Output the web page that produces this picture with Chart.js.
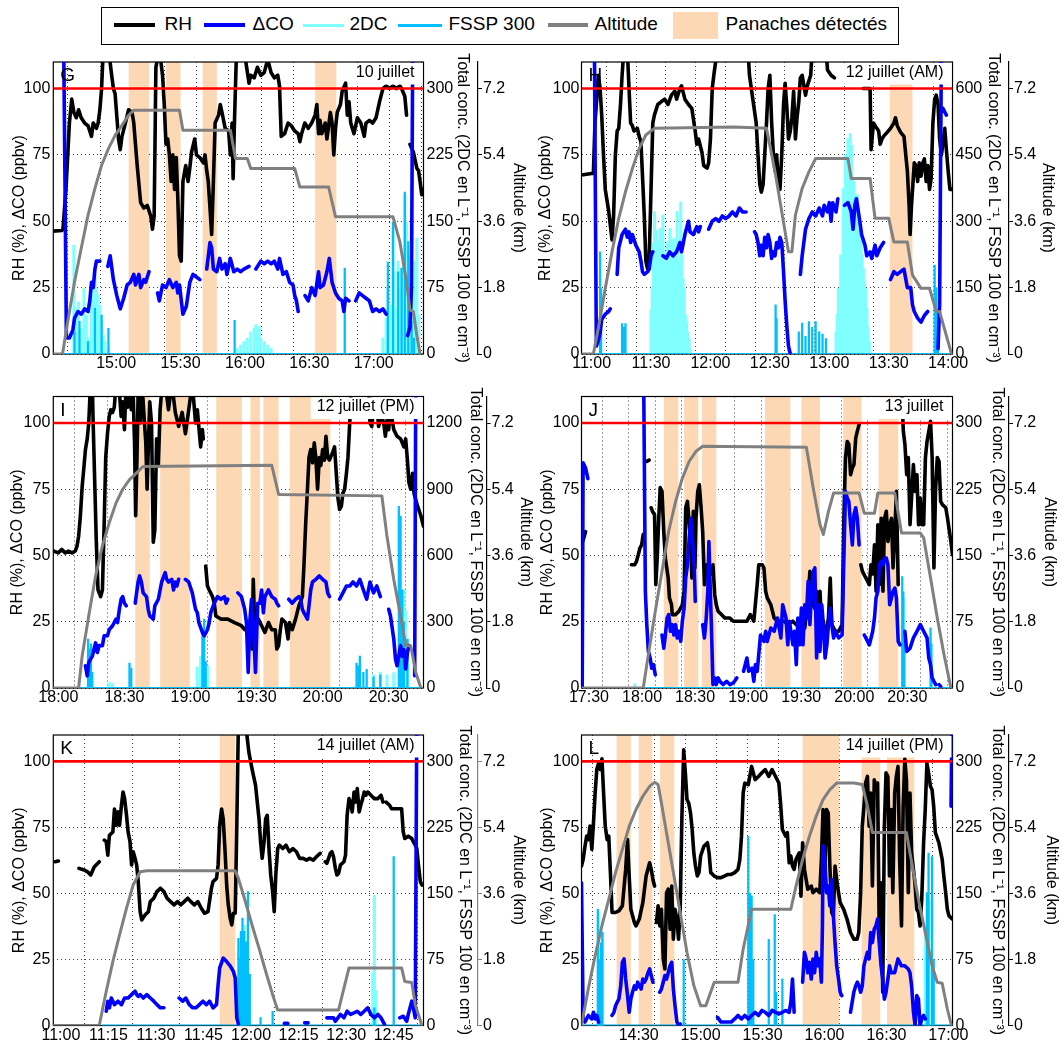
<!DOCTYPE html>
<html><head><meta charset="utf-8">
<script src="https://cdn.jsdelivr.net/npm/chart.js@4/dist/chart.umd.min.js"></script>
<style>
html,body{margin:0;padding:0;background:#fff;}
body{width:1062px;height:1047px;overflow:hidden;position:relative;font-family:"Liberation Sans",Arial,Helvetica,sans-serif;}
canvas{position:absolute;}
#legend{position:absolute;left:101px;top:7px;width:798px;height:38px;border:1.5px solid #000;box-sizing:border-box;background:#fff;z-index:5;}
#legend .ln{position:absolute;}
#legend .lt{position:absolute;top:6px;font-size:19px;line-height:20px;color:#000;white-space:nowrap;}
</style></head><body>
<div id="legend">
  <div class="ln" style="left:11.5px;width:41px;top:15px;height:4px;background:#000"></div><span class="lt" style="left:62.5px">RH</span>
  <div class="ln" style="left:101.5px;width:41px;top:15px;height:4px;background:#0000ff"></div><span class="lt" style="left:150.5px">ΔCO</span>
  <div class="ln" style="left:200.5px;width:41px;top:15.5px;height:3px;background:#80ffff"></div><span class="lt" style="left:247.5px">2DC</span>
  <div class="ln" style="left:295.5px;width:44px;top:15.5px;height:3px;background:#00bfff"></div><span class="lt" style="left:346.5px">FSSP 300</span>
  <div class="ln" style="left:445.5px;width:40px;top:15px;height:4px;background:#808080"></div><span class="lt" style="left:492.5px">Altitude</span>
  <div class="ln" style="left:570.5px;width:45px;top:3.5px;height:27px;background:#fcd9b4"></div><span class="lt" style="left:623.5px">Panaches détectés</span>
</div>
<canvas id="c0"></canvas><canvas id="c1"></canvas><canvas id="c2"></canvas>
<canvas id="c3"></canvas><canvas id="c4"></canvas><canvas id="c5"></canvas>
<script>
// ===================== DATA (time = minutes after 00:00 UTC) =====================
const PANEL_LETTERS = ['G','H','I','J','K','L'];
const PANEL_DATES = ['10 juillet','12 juillet (AM)','12 juillet (PM)','13 juillet','14 juillet (AM)','14 juillet (PM)'];
const SAT_RH = 100;
const RH_TICKS = [0,25,50,75,100];
const ALT_TICKS = [0,1.8,3.6,5.4,7.2];
const ALT_LABELS = ['0','1.8','3.6','5.4','7.2'];
const CONC_TICKS_G = [0,75,150,225,300];
const CONC_TICKS_H = [0,150,300,450,600];
const CONC_TICKS_I = [0,300,600,900,1200];
const CONC_TICKS_J = [0,75,150,225,300];
const CONC_TICKS_K = [0,75,150,225,300];
const CONC_TICKS_L = [0,75,150,225,300];

const XRANGE_G = [870.7,1043.2];
const XRANGE_H = [654.9,842.2];
const XRANGE_I = [1077.7,1245.8];
const XRANGE_J = [1045.8,1255.5];
const XRANGE_K = [657.6,774.4];
const XRANGE_L = [842.3,1022.0];

const XTICKS_G = [885,900,915,930,945,960,975,990,1005,1020,1035];
const XLABELS_G = ['','15:00','','15:30','','16:00','','16:30','','17:00',''];
const XTICKS_H = [660,675,690,705,720,735,750,765,780,795,810,825,840];
const XLABELS_H = ['11:00','','11:30','','12:00','','12:30','','13:00','','13:30','','14:00'];
const XTICKS_I = [1080,1095,1110,1125,1140,1155,1170,1185,1200,1215,1230,1245];
const XLABELS_I = ['18:00','','18:30','','19:00','','19:30','','20:00','','20:30',''];
const XTICKS_J = [1050,1065,1080,1095,1110,1125,1140,1155,1170,1185,1200,1215,1230,1245];
const XLABELS_J = ['17:30','','18:00','','18:30','','19:00','','19:30','','20:00','','20:30',''];
const XTICKS_K = [660,675,690,705,720,735,750,765];
const XLABELS_K = ['11:00','11:15','11:30','11:45','12:00','12:15','12:30','12:45'];
const XTICKS_L = [855,870,885,900,915,930,945,960,975,990,1005,1020];
const XLABELS_L = ['','14:30','','15:00','','15:30','','16:00','','16:30','','17:00'];

// ---------- G : 10 juillet ----------
const RH_G = [[870.6,46.3],[874.7,46.5],[875.2,47],[876.6,62],[878.2,87],[879.3,96],[880.3,91],[881.4,89],[882.5,92],[883.7,89],[885.3,87],[886.9,86],[888.5,82],[889.3,87],[890.8,85],[891.6,87],[892.4,92],[893.2,100],[894.0,115],[896.4,115],[897.9,105],[898.7,100],[899.5,98],[901.1,81],[901.9,77],[902.7,82],[904.3,87],[905.8,92],[907.4,91],[908.2,87],[909.8,71],[911.4,57],[912.9,55],[914.5,56],[916.1,52],[916.9,47],[917.7,52],[918.5,108],[920.1,115],[921.6,105],[922.4,94],[923.2,79],[924.0,81],[924.8,75],[925.6,65],[926.4,75],[927.2,62],[928.0,74],[928.7,59],[929.5,37],[930.3,35],[931.1,65],[932.4,71],[933.5,65],[934.3,70],[935.1,76],[936.6,81],[937.4,75],[939.0,74],[940.6,72],[941.4,75],[942.2,69],[942.9,65],[943.7,55],[944.5,45],[945.3,65],[946.1,87],[947.7,90],[948.5,94],[949.3,91],[950.8,85],[952.4,84],[953.2,75],[954.0,87],[954.5,66],[955.1,87],[956.1,115],[959.5,115],[961.9,102],[962.7,105],[964.3,104],[965.8,108],[967.4,105],[969.0,106],[970.6,111],[972.2,106],[973.7,104],[975.3,105],[976.1,101],[976.9,82],[978.5,83],[980.1,87],[981.6,86],[983.2,84],[984.8,83],[985.6,80],[986.4,83],[987.9,87],[989.5,85],[991.1,87],[992.7,90],[993.5,94],[994.3,83],[995.0,88],[995.8,83],[997.4,87],[998.2,81],[999.0,86],[999.8,91],[1000.6,87],[1001.4,75],[1002.2,85],[1003.0,91],[1004.5,94],[1005.3,99],[1006.9,102],[1007.7,90],[1008.5,95],[1009.3,87],[1010.8,83],[1012.4,89],[1014.0,87],[1015.6,82],[1016.4,87],[1018.0,88],[1019.5,87],[1021.1,89],[1022.7,95],[1024.3,100],[1025.8,101],[1027.4,100],[1029.0,101],[1030.6,100],[1032.2,101],[1033.0,100],[1034.5,97],[1035.3,90],[1036.1,null],[1036.9,79],[1038.5,76],[1040.1,70],[1040.9,69],[1041.6,65],[1042.4,60],[1043.0,62]];
const CO_G = [[875.5,120],[876.2,60],[876.8,6],[878.2,6],[879.8,9],[880.6,13.5],[882.2,16],[883.7,15],[885.3,17],[886.9,16],[887.7,20],[888.5,27],[889.3,25],[890.1,32],[890.8,35],[892.4,35],[894,null],[896.1,33],[897.2,37],[898.7,28],[900.3,22],[901.9,17],[903.5,21],[905.1,26],[906.6,27],[908.2,30],[909.0,26],[910.6,30],[911.4,25],[912.9,28],[913.7,27],[915.3,31],[917,null],[919.3,23],[920.1,20],[921.6,26],[923.2,25],[924.8,28],[926.4,25],[928.0,27],[928.7,23],[929.5,26],[931.1,15],[932.7,18],[934.3,27],[935.8,30],[937.4,29],[939.0,28],[940.5,null],[942.2,32],[943.7,42],[944.5,40],[945.3,32],[946.9,31],[948.2,36],[949.3,32],[950.8,34],[951.6,30],[953.2,36],[954.8,31],[956.4,32],[957.9,31],[959.5,32],[961.9,33],[963.5,null],[965.1,32],[967.4,35],[969.0,34],[970.6,35],[972.2,34],[973.7,35],[975.3,32],[976.1,36],[977.7,30],[979.3,31],[980.8,27],[982.4,26],[983.2,22],[984.0,20],[984.8,16],[986.5,null],[988.0,22],[989.5,20],[991.1,25],[992.7,22],[994.3,31],[995.0,25],[996.6,26],[998.2,31],[999.3,36],[1000.6,27],[1002.2,23],[1003.7,21],[1005.3,20],[1006.1,16],[1006.9,21],[1008.5,20],[1010,null],[1011.6,20],[1013.2,23],[1014.8,22],[1016.4,21],[1018.0,20],[1019.5,16],[1021.1,17],[1022.7,16],[1024.3,17],[1025.8,15],[1030,null],[1035.8,7],[1036.9,10],[1037.6,25],[1038.2,120]];
const ALT_G = [[870.6,0],[875.0,0],[877.4,0.87],[880.6,1.96],[883.7,2.86],[886.9,3.77],[890.1,4.49],[893.2,5.12],[896.4,5.57],[899.5,5.93],[902.7,6.2],[905.8,6.48],[908.2,6.61],[929.5,6.61],[931.1,6.07],[953.2,6.07],[955.6,5.3],[961.1,5.3],[962.7,5.03],[983.2,5.03],[985.6,4.53],[999.0,4.53],[1002.2,3.72],[1029.0,3.72],[1032.2,3.04],[1035.3,1.96],[1036.9,1.19],[1038.5,1.15],[1040.1,0.5],[1041.6,0]];
const DC2_G = [[880.3,123],[881.4,52],[882.5,59],[883.7,29],[885.0,74],[886.1,44],[887.2,18],[888.5,82],[889.3,67],[890.1,89],[890.8,74],[891.6,67],[892.4,55],[893.2,37],[894.0,21],[894.8,14],[896.4,6],[956.4,6],[958.0,10],[959.5,14],[961.1,18],[962.7,25],[964.3,29],[965.1,33],[965.8,21],[966.6,31],[967.4,18],[969.0,14],[970.6,10],[972.2,6],[1024.3,18],[1025.8,40],[1026.6,74],[1027.4,55],[1029.0,142],[1029.8,93],[1030.6,52],[1031.4,105],[1032.2,74],[1033.0,97],[1033.8,112],[1034.5,180],[1035.3,149],[1036.1,93],[1036.9,112],[1037.7,67],[1038.5,74],[1039.3,105],[1040.1,131],[1040.9,44]];
const FSSP_G = [[880.6,25],[882.9,37],[886.9,14],[890.1,52],[893.2,44],[896.4,29],[955.2,38],[1006.5,97],[1026.6,104],[1029.0,149],[1031.4,93],[1033.0,97],[1034.5,183],[1036.1,127],[1037.7,37],[1038.8,18]];
const FSSP_ON_G = [875,1042];
const PLUMES_G = [[905.8,915.3],[923.2,930.0],[940.3,946.9],[992.7,1002.6]];

// ---------- H : 12 juillet (AM) ----------
const RH_H = [[654.9,67.4],[660.0,68],[660.9,68],[661.7,87],[662.6,96],[663.4,105],[664.3,100],[665.1,90],[666.0,75],[666.9,62],[668.6,54],[670.3,43],[671.1,52],[672.0,75],[672.9,84],[673.7,85],[674.6,94],[675.4,105],[676.3,115],[678.0,115],[678.9,100],[679.7,87],[680.6,86],[681.4,84],[683.1,85],[684.0,82],[684.9,80],[685.7,67],[686.6,52],[687.4,35],[688.3,32],[689.1,37],[690.0,62],[690.9,87],[691.7,90],[693.4,94],[695.1,95],[696.9,96],[698.6,94],[700.3,97.5],[702.0,99],[702.9,96],[704.6,100],[705.4,101],[707.1,96],[708.9,94],[710.6,92.5],[712.3,84],[713.1,79],[714.0,81],[715.7,76],[716.6,71],[718.3,70],[719.1,72],[720.0,81],[720.9,100],[721.7,105],[722.6,110],[724.3,115],[738.9,115],[739.7,105],[741.4,96],[743.1,87],[744.0,75],[744.9,64],[745.7,61],[746.6,64],[747.4,75],[748.3,87],[749.1,100],[750.0,105],[750.9,87],[751.7,76],[752.6,69],[753.4,75],[754.3,65],[755.1,62],[756.0,75],[756.9,94],[757.7,102],[758.6,92.5],[759.4,81],[760.3,84],[761.1,89],[762.0,99],[762.9,81],[763.7,89],[764.6,95],[765.4,104],[766.3,105],[768.0,97.5],[768.9,101],[770.6,105],[771.4,115],[778.3,115],[779.1,107],[780.9,105],[782.6,104],[790,null],[797.1,100],[800.6,100],[801.1,77],[802.3,87],[804.0,85],[804.9,84],[805.7,79],[806.6,81],[807.4,82],[809.2,83.5],[810.9,85],[812.6,87],[813.4,89],[814.3,86],[816.0,83.5],[817.7,82],[819.4,69],[820.3,56],[820.8,45],[821.5,56],[822.9,72],[823.7,71],[824.6,65],[825.4,72],[826.3,67],[827.2,72],[828.0,73.5],[828.9,65],[829.7,71],[830.6,62],[831.4,66],[832.3,87],[833.2,96],[834.0,97.5],[834.9,94],[835.7,81],[836.6,75],[838.3,85],[839.1,77],[840.0,69],[840.9,62],[842.2,62]];
const CO_H = [[661.4,120],[661.9,60],[662.4,3],[663.4,5],[664.3,8],[665.1,13],[666.9,15],[668.6,16],[669.4,17],[671,null],[672.9,30],[673.7,40],[675.4,45],[677.1,47],[678.0,44],[678.9,46],[679.7,42],[680.6,45],[682.3,41],[684.0,38.5],[684.9,35],[685.7,31],[686.6,30],[688.3,31],[689.1,32],[690.0,37],[690.9,38.5],[693,null],[696.0,37],[697.7,36],[699.4,38.5],[701.1,37],[702.9,38.5],[704.6,42],[705.4,38.5],[707.1,45],[708.9,50],[709.7,46],[711.4,45],[713.1,48],[714.0,46],[714.9,48],[717,null],[719.1,47],[720.9,50],[722.6,51],[724.3,50],[726.0,52],[727.7,51],[729.4,52],[731.1,53.5],[732.9,52],[734.6,55],[736.3,53.5],[738.0,53.5],[740,null],[742.3,46],[743.1,45],[744.0,42],[744.9,37],[745.7,41],[746.6,37],[747.4,44],[748.3,40],[749.1,45],[750.0,42],[750.9,36],[751.7,38.5],[752.6,37],[753.4,42],[754.3,40],[755.1,44],[756.0,42],[756.9,31],[757.7,20],[758.6,10],[759.4,3],[760.3,0],[763,null],[765.4,30],[766.3,37],[768.0,47],[769.7,51],[771.4,53.5],[773.1,52],[774.9,55],[776.6,52],[777.4,56],[779.1,53.5],[780.0,57],[780.9,50],[781.7,57],[783.4,53.5],[784.3,58.5],[786,null],[787.7,56],[789.4,57],[791.1,53.5],[792.0,47],[792.9,56],[793.7,58.5],[794.6,54],[795.4,50],[796.3,45],[798.0,41],[798.9,37],[800.6,38.5],[801.4,36],[802.3,38.5],[803.1,41],[804.0,37],[805.7,40],[807.4,42],[809,null],[810.9,28],[812.6,31],[814.3,30],[816.0,31],[817.7,32],[819.4,25],[821.1,25],[822.0,18.5],[822.9,16],[824.6,13.5],[826.3,12],[828.0,14.5],[829.7,16],[832,null],[834.9,2],[835.7,18.5],[836.6,115],[837,null],[837.4,92.5],[839.1,90]];
const ALT_H = [[654.9,0],[660.9,0],[663.4,0.7],[666.9,1.78],[670.3,2.77],[673.7,3.68],[677.1,4.4],[680.6,5.03],[684.0,5.57],[687.4,5.94],[691.7,6.12],[732.0,6.16],[748.3,6.12],[752.6,4.94],[756.0,3.86],[759.4,2.77],[761.1,2.77],[762.9,3.77],[766.3,4.49],[769.7,4.94],[773.1,5.3],[789.4,5.3],[791.1,4.76],[800.6,4.76],[803.1,3.68],[810.0,3.68],[812.6,3.04],[819.4,3.04],[822.0,2.14],[826.3,1.78],[830.6,1.78],[834.0,1.15],[835.7,1.15],[841.7,0]];
const DC2_H = [[690.0,100],[690.6,148],[691.2,250],[691.8,322],[692.4,200],[693.0,280],[693.6,254],[694.2,180],[694.8,284],[695.4,186],[696.0,314],[696.6,230],[697.2,209],[697.8,160],[698.4,254],[699.0,148],[699.6,284],[700.2,200],[700.8,224],[701.4,261],[702.0,180],[702.6,239],[703.2,322],[703.8,150],[704.4,209],[705.0,344],[705.6,224],[706.2,170],[706.8,148],[707.4,88],[708.0,73],[708.6,50],[709.2,35],[709.8,13],[783.4,50],[784.0,90],[784.6,148],[785.2,120],[785.8,224],[786.4,180],[787.0,374],[787.6,300],[788.2,450],[788.8,380],[789.4,487],[790.0,420],[790.6,498],[791.2,472],[791.8,400],[792.4,390],[793.0,351],[793.6,300],[794.2,360],[794.8,299],[795.4,254],[796.0,280],[796.6,224],[797.2,193],[797.8,163],[798.4,148],[799.0,103],[799.6,60],[800.2,28]];
const FSSP_H = [[664.3,231],[664.8,148],[675.4,69],[676.3,60],[677.1,69],[752.9,111],[753.4,80],[764.6,50],[766.3,70],[768.0,40],[769.7,73],[771.4,60],[773.1,73],[774.9,50],[776.6,45],[778.3,35],[833.2,201],[834.0,150],[834.9,100]];
const FSSP_ON_H = [661,842];
const PLUMES_H = [[810.5,822.0]];

// ---------- I : 12 juillet (PM) ----------
const RH_I = [[1077.7,51.7],[1080.0,51],[1081.5,52.3],[1083.1,51],[1084.6,51.7],[1086.2,51],[1087.7,51.7],[1088.5,53.6],[1089.2,57.3],[1090.0,65],[1090.8,76],[1091.5,82.4],[1092.3,90],[1093.1,94],[1093.8,100],[1094.6,115],[1095.4,115],[1095.8,100],[1096.6,75],[1097.2,56],[1098.0,37],[1099.2,34.5],[1100.0,37],[1100.8,62],[1101.5,87],[1102.3,96],[1103.1,102.5],[1103.8,105],[1104.6,104],[1105.4,106],[1106.2,115],[1107.7,112],[1108.5,102.5],[1109.2,108],[1110.0,97.5],[1110.8,115],[1111.5,106],[1112.3,115],[1113.1,105],[1113.8,115],[1114.6,92.5],[1115.1,65],[1115.7,87],[1116.3,115],[1117.2,100],[1118.2,112],[1119.1,100],[1119.7,92.5],[1120.3,75],[1120.9,92.5],[1121.5,108],[1122.3,100],[1123.1,55],[1123.8,59.6],[1124.6,94],[1125.4,84],[1126.2,105],[1126.9,112],[1128.5,115],[1130.0,105],[1131.5,115],[1133.1,104],[1134.6,98.7],[1136.2,104],[1137.7,96],[1139.2,105],[1140.8,115],[1142.3,100],[1143.1,105],[1144.6,91],[1145.4,97.5],[1145.8,94],[1146.3,null],[1146.9,46],[1147.7,38.5],[1148.5,37],[1150.0,34.5],[1150.8,32],[1151.5,27.2],[1153.8,26],[1156.9,26],[1160.0,24.7],[1163.1,23.5],[1164.6,22],[1166.2,23.5],[1167.4,24.7],[1168.0,14.7],[1168.5,41],[1169.2,22],[1170.8,26],[1172.3,23.5],[1173.8,21],[1175.4,24.7],[1176.9,22],[1178.5,22],[1179.2,14.7],[1180.0,16],[1180.8,22],[1181.5,26],[1183.1,24.7],[1184.3,18.5],[1184.9,24.7],[1186.2,22],[1187.7,26],[1189.2,31],[1190.8,34.5],[1191.5,46],[1192.3,62],[1193.1,75],[1193.8,87],[1194.6,90],[1195.4,85],[1196.2,92.5],[1196.9,87],[1197.7,75],[1198.5,87],[1199.2,84],[1200.0,90],[1200.8,86],[1201.5,95],[1202.3,87],[1203.1,86],[1204.6,89],[1205.4,91],[1206.2,81],[1206.9,72],[1207.7,67.4],[1208.5,68.6],[1209.2,73.5],[1210.0,75],[1210.8,81],[1211.5,87],[1212.3,100],[1213.1,115],[1220.8,115],[1221.5,100],[1222.3,98.7],[1223.1,105],[1224.6,108],[1225.4,98.7],[1226.9,102.5],[1227.7,100],[1228.5,95],[1229.2,101],[1230.0,97.5],[1230.8,105],[1232.3,97.5],[1233.8,95],[1235.4,94],[1236.9,91],[1237.7,94],[1238.5,86],[1239.2,77.4],[1240.0,75],[1240.8,81],[1241.5,73.5],[1242.3,71],[1243.1,68.6],[1244.6,65],[1245.8,61]];
const CO_I = [[1092.3,8.4],[1093.1,4.6],[1093.8,9.7],[1095.4,12],[1096.9,17],[1097.7,13.4],[1098.5,16],[1100.0,16],[1100.8,19.7],[1102.3,19.7],[1103.1,22],[1104.6,23.5],[1106.2,26],[1106.9,24.7],[1107.7,29.7],[1108.5,33.5],[1109.2,34.5],[1110.0,32],[1110.8,31],[1112,null],[1114.9,32],[1116.2,40],[1116.9,42.3],[1117.7,40],[1118.5,35.9],[1120.0,34.5],[1120.8,29.7],[1121.5,27.2],[1123.1,26],[1123.8,31],[1125.4,33.5],[1126.9,40],[1128.5,43.5],[1129.2,41],[1130.0,40],[1131.5,41],[1132.3,37],[1133.1,40],[1133.8,38.5],[1134.6,41],[1136,null],[1137.7,41],[1139.2,40],[1140.8,35.9],[1142.3,29.7],[1143.1,28.4],[1143.8,24.7],[1145.4,21],[1146.2,19.7],[1147.7,22],[1148.5,24.7],[1149.2,28.4],[1150.8,32],[1152.3,34.5],[1153.8,33.5],[1155.4,34.5],[1156.2,32],[1156.9,33.5],[1159,null],[1161.5,35.9],[1163.1,34.5],[1164.6,29.7],[1165.4,24.7],[1166.2,5.9],[1166.9,24.7],[1167.7,33.5],[1168.5,24.7],[1169.5,5.9],[1170.5,32],[1171.5,32],[1172.3,37],[1173.1,28.4],[1173.8,34.5],[1175.4,37],[1176.9,34.5],[1178.5,33.5],[1179.2,32],[1180.0,31],[1182,null],[1184.6,33.5],[1186.2,32],[1187.7,33.5],[1189.2,34.5],[1190.0,33.5],[1190.8,29.7],[1191.5,28.4],[1192.3,27.2],[1193.1,26],[1193.8,31],[1194.6,37],[1195.4,40],[1196.9,41],[1198.5,42.3],[1200.0,41],[1201.5,40],[1202.3,35.9],[1203.1,34.5],[1205,null],[1207.7,33.5],[1209.2,35.9],[1210.8,38.5],[1212.3,38.5],[1213.8,40],[1215.4,38.5],[1216.9,41],[1218.5,37],[1220.0,33.5],[1221.5,40],[1223.1,35.9],[1224.6,38.5],[1226.2,34.5],[1228,null],[1230.0,29.7],[1230.8,27.2],[1232.3,18.5],[1233.1,10.8],[1233.8,8.4],[1234.6,12],[1235.4,16],[1236.2,12],[1236.9,14.5],[1237.7,7.2],[1238.5,13.4],[1239.2,16],[1240.5,null],[1241.8,4.6],[1242.3,120]];
const ALT_I = [[1077.7,0],[1089.2,0],[1090.8,0.87],[1093.8,1.96],[1096.9,3.04],[1100.0,3.86],[1103.1,4.49],[1106.2,5.03],[1109.2,5.4],[1112.3,5.66],[1115.4,5.84],[1118.5,6.02],[1176.9,6.05],[1180.0,5.26],[1226.9,5.22],[1229.2,4.13],[1232.3,2.95],[1235.4,1.96],[1237.7,1.15],[1240.0,1.15],[1242.3,0.42],[1244.6,0]];
const DC2_I = [[1103.1,24],[1104.6,20],[1143.1,96],[1144.6,144],[1146.2,130],[1147.7,100],[1223.1,60],[1226.2,72],[1229.2,60],[1232.3,70],[1236.2,300],[1236.9,444],[1237.7,350],[1238.5,222]];
const FSSP_I = [[1093.5,222],[1094.2,176],[1094.8,200],[1095.4,71],[1112.3,113],[1113.1,90],[1145.4,264],[1146.2,312],[1146.9,120],[1215.4,113],[1216.2,100],[1216.9,144],[1218.5,71],[1220.0,85],[1223.1,50],[1226.2,60],[1234.6,823],[1235.4,778],[1236.2,444],[1236.9,300],[1238.5,222]];
const FSSP_ON_I = [1090,1245];
const PLUMES_I = [[1114.9,1121.5],[1126.2,1139.7],[1151.7,1163.4],[1167.2,1171.5],[1173.1,1180.0],[1185.1,1203.5]];

// ---------- J : 13 juillet ----------
const RH_J = [[1046.5,55.3],[1048.1,59],[1060,null],[1074.0,46.5],[1075.9,46.5],[1076.9,47.8],[1077.9,50.3],[1078.8,52.8],[1079.8,54],[1080.7,58],[1081.5,null],[1082.7,85.5],[1084.0,86],[1084.6,null],[1085.2,68],[1085.9,66.7],[1087.1,65.4],[1087.8,39],[1088.6,49],[1089.4,63],[1090.3,75.6],[1091.3,74.2],[1092.3,59],[1093.2,49],[1094.8,41.5],[1095.5,34],[1096.7,31.4],[1097.1,27.7],[1099.0,27.7],[1100.9,29],[1102.8,31.4],[1103.8,36.5],[1104.7,68],[1105.7,70.4],[1106.7,61.6],[1107.6,54],[1108.2,41.5],[1109.0,66.7],[1109.9,45.3],[1110.5,64],[1111.5,74.2],[1112.4,76.7],[1113.4,68],[1114.3,59],[1115.3,39],[1116.3,46.5],[1117.2,44],[1118.2,44],[1119.2,43],[1120.1,46.5],[1121.1,35.2],[1122.0,31.4],[1123.0,29],[1124.9,27.7],[1126.8,26.4],[1129.7,26.4],[1131.6,25.2],[1135.5,25.2],[1139.3,25.2],[1141.2,27.7],[1143.2,25.2],[1145.1,39],[1146.0,46.5],[1148.0,46.5],[1148.9,45.3],[1149.9,36.5],[1150.8,34],[1152.8,31.4],[1154.7,26.4],[1156.6,25.2],[1160.4,25.2],[1162.4,23.9],[1165.3,25.2],[1167.2,23.9],[1170.1,25.2],[1172.0,22.6],[1173.9,34],[1174.9,44],[1175.8,41.5],[1176.8,31.4],[1177.7,30],[1178.7,36.5],[1179.7,21.4],[1180.6,36.5],[1181.6,21.4],[1182.5,25.2],[1183.5,17.6],[1185.4,26.4],[1186.4,41.5],[1187.3,23.9],[1189.3,21.4],[1191.2,21.4],[1193.1,23.9],[1194.1,64],[1195.0,86.8],[1196.0,93],[1196.9,92],[1197.9,80.5],[1198.9,83],[1199.8,84.3],[1200.8,94.3],[1201.7,96.9],[1202.7,99.4],[1203.2,null],[1203.7,46.5],[1204.6,44],[1206.5,41.5],[1208.5,39],[1209.4,46.5],[1210.4,43],[1211.4,54],[1212.3,36.5],[1213.3,61.6],[1214.2,39],[1215.2,64],[1216.2,36.5],[1217.1,64],[1218.1,66.7],[1219.0,55.3],[1220.0,61.6],[1221.0,64],[1221.9,45.3],[1222.9,59],[1223.8,74.2],[1224.8,39],[1225.7,null],[1226.7,115],[1227.7,97],[1228.6,92],[1229.6,80.5],[1230.5,87],[1231.5,61.6],[1233.4,84.3],[1234.4,74.2],[1235.4,80.5],[1236.3,61.6],[1237.3,71.7],[1238.2,61.6],[1239.2,61.6],[1240.2,87],[1241.1,93],[1243.1,100.6],[1244.0,87],[1245.0,45.3],[1245.9,74.2],[1246.9,87],[1247.9,85.5],[1248.8,70.4],[1249.8,69.2],[1251.7,68],[1252.7,64],[1254.6,55.3],[1255.5,50.3]];
const CO_J = [[1046.2,0],[1046.7,85],[1048.1,83],[1049.4,79],[1060,null],[1080.9,120],[1081.9,36.5],[1082.7,24],[1083.6,13.8],[1084.6,11.3],[1085.5,7.5],[1086.5,8.8],[1087.5,5],[1089,null],[1091.3,20],[1092.3,15],[1093.2,20],[1094.2,26.4],[1095.1,27.7],[1096.1,21.4],[1097.1,23.9],[1098.0,20],[1099.0,23.9],[1099.9,18.9],[1100.9,21.4],[1101.9,17.6],[1102.8,25.2],[1103.8,30.2],[1104.7,41.5],[1105.7,46.5],[1106.7,56.6],[1107.6,64],[1108.6,55.3],[1109.5,46.5],[1110.1,32.7],[1112,null],[1114.3,23.9],[1115.3,18.9],[1116.3,26.4],[1117.2,36.5],[1117.8,55.3],[1118.6,36.5],[1119.2,23.9],[1120.1,1.3],[1121.1,3.8],[1122.0,1.3],[1123.0,3.8],[1124.0,2.5],[1125.9,1.3],[1127.8,2.5],[1129.7,1.3],[1131.6,1.9],[1133.6,3.8],[1135.5,null],[1137.4,6.3],[1139.3,11.3],[1140.3,6.3],[1142.2,7.5],[1143.2,2.5],[1144.1,8.8],[1145.1,6.3],[1147.0,20],[1148.9,17.6],[1149.9,21.4],[1150.8,17.6],[1152.8,22.6],[1154.7,21.4],[1156.6,26.4],[1158.5,18.9],[1159.5,31.4],[1161.4,26.4],[1162.4,16.3],[1163.3,25.2],[1165.3,16.3],[1166.2,21.4],[1167.2,8.8],[1168.1,26.4],[1169.1,16.3],[1170.1,30.2],[1171.0,16.3],[1172.0,31.4],[1172.9,26.4],[1173.9,40.3],[1174.9,23.9],[1175.8,36.5],[1176.8,44],[1177.7,45.3],[1178.7,11.3],[1179.7,31.4],[1180.6,13.8],[1181.6,31.4],[1182.5,23.9],[1183.5,11.3],[1184.5,16.3],[1185.4,23.9],[1186.4,30.2],[1187.3,23.9],[1188.3,18.9],[1189.3,21.4],[1191.2,18.9],[1193.1,20],[1194.1,49],[1195.0,74.2],[1196.0,71.7],[1196.9,70.4],[1197.9,61.6],[1198.9,54],[1199.8,65.4],[1200.8,68],[1201.7,64],[1202.7,54],[1204,null],[1205.6,20],[1206.5,18.9],[1208.5,16.3],[1210.4,21.4],[1211.4,26.4],[1212.3,34],[1213.3,36.5],[1214.2,46.5],[1215.2,47.8],[1216.2,46.5],[1217.1,49],[1218.1,49],[1219.0,46.5],[1220.0,31.4],[1221.0,34],[1221.9,36.5],[1222.9,37.7],[1223.8,34],[1224.8,17.6],[1225.8,16.3],[1227,null],[1228.6,21.4],[1229.6,13.8],[1231.5,15],[1233.4,18.9],[1235.4,21.4],[1237.3,23.9],[1239.2,21.4],[1241.1,18.9],[1242.1,11.3],[1243.1,8.8],[1244.0,3.8],[1245.0,2.5],[1246.0,1.3],[1247,null],[1247.9,1.3],[1248.8,0.6]];
const ALT_J = [[1045.8,0],[1080.7,0],[1083.6,0.91],[1087.5,2.08],[1091.3,3.17],[1095.1,4.26],[1099.0,5.07],[1102.8,5.7],[1106.7,6.16],[1110.5,6.43],[1114.3,6.57],[1172.9,6.54],[1176.8,5.43],[1180.6,4.44],[1182.5,4.17],[1185.4,4.8],[1188.3,5.3],[1202.7,5.3],[1205.6,4.75],[1211.4,4.75],[1213.3,5.3],[1222.9,5.3],[1226.7,4.21],[1237.3,4.21],[1239.2,4.08],[1243.1,2.99],[1246.9,1.9],[1250.7,0.91],[1254.6,0]];
const DC2_J = [[1075.9,5],[1227.7,102]];
const FSSP_J = [[1227.1,126],[1227.7,109],[1228.3,60],[1243.1,68],[1243.6,50]];
const FSSP_ON_J = [1081,1255];
const PLUMES_J = [[1092.3,1100.5],[1103.8,1111.9],[1113.8,1122.0],[1149.5,1163.9],[1170.1,1180.6],[1193.7,1204.1],[1213.7,1224.8]];

// ---------- K : 14 juillet (AM) ----------
const RH_K = [[658.2,62],[659.2,62.3],[662,null],[665.7,59.5],[667.3,58.9],[668.4,58.2],[669.4,57],[670.5,60],[672.1,62],[673,null],[673.7,70.2],[674.3,69.6],[674.8,64.5],[675.3,72],[675.9,72.7],[676.4,73.3],[676.9,82],[677.5,75.8],[678.0,80.9],[678.5,75.8],[679.1,83.4],[679.6,88.4],[680.1,85.9],[680.7,79.6],[681.2,73.3],[681.8,69.6],[682.3,60.8],[682.8,65.8],[683.4,63.3],[683.9,60.8],[684.4,54.5],[685.0,43.1],[685.5,40],[686.6,41.9],[687.6,43.1],[688.2,46.9],[689.3,48.2],[690.3,50.7],[691.4,52],[692.5,50.7],[693.5,48.2],[694.6,46.9],[695.7,45.7],[696.8,46.9],[697.8,45.7],[698.9,46.9],[700.0,48.2],[701.0,46.9],[702.1,45.7],[703.2,46.9],[704.3,44.4],[705.3,42.5],[706.4,43.1],[707.5,52],[708.0,54.5],[709.1,55.7],[709.6,60.8],[710.1,75.8],[710.7,82],[711.2,78.3],[711.8,65.8],[712.3,53.2],[712.8,45.7],[713.4,40.6],[713.9,38.1],[714.4,42.5],[715.0,42.5],[715.5,75.8],[716.0,115],[718.2,115],[719.3,103.5],[720.3,97.2],[721.4,91],[722.5,78.3],[723.0,69.6],[723.5,63.3],[724.1,69.6],[724.6,78.3],[725.1,79.6],[725.7,65.8],[726.2,57],[726.8,50.7],[727.3,43.1],[727.8,57],[728.4,67],[728.9,68.3],[730.0,67],[731.0,68.3],[732.1,65.8],[733.2,67],[734.3,65.8],[735.3,63.3],[736.4,63.3],[737.5,62.6],[738.5,63.3],[739.6,62.6],[740.7,64],[741.8,65.2],[742.6,null],[743.4,62],[743.9,61.4],[745.0,65.2],[745.5,65.8],[746.0,64],[746.6,59.5],[747.1,57],[747.6,57.6],[748.2,60.8],[749.3,62],[749.8,64.5],[750.3,79.6],[750.9,85.9],[751.4,84.6],[751.9,80.9],[752.5,88.4],[753.0,84.6],[753.5,89.7],[754.1,80.9],[754.6,83.4],[755.2,85.9],[755.7,88.4],[756.2,87.2],[756.8,88.4],[757.8,87.2],[758.9,85.9],[760.0,85.9],[761.0,87.2],[761.6,84.6],[762.1,null],[762.6,84.6],[763.7,83.4],[764.3,82.1],[764.8,82.1],[765.3,82.1],[766.4,82.1],[767.5,82.1],[768.0,73.3],[768.5,70.8],[769.6,71.7],[770.7,70.8],[771.2,69.6],[771.8,68.3],[772.3,67],[772.8,60.8],[773.4,54.5],[773.9,53.2]];
const CO_K = [[674.3,5.4],[674.8,9.2],[675.3,6.7],[675.9,10.4],[676.9,7.9],[678.0,9.2],[679.1,7.9],[680.1,10.4],[681.2,10.4],[682.3,11.7],[683.4,13],[683.9,11.7],[684.4,11],[685.0,11.7],[686.0,10.4],[687.1,11.7],[688.2,10.4],[689.3,9.2],[690.3,7.9],[691.4,6.7],[692.5,6.7],[695,null],[697.3,10.4],[698.4,9.2],[699.4,10.4],[700.5,7.9],[701.6,6.7],[702.6,6.7],[703.7,7.9],[704.8,9.2],[705.9,7.9],[706.9,9.2],[708.0,6.7],[709.1,7.9],[709.6,15.5],[710.1,21.8],[711.2,25.5],[712.3,24.2],[713.4,22.6],[714.4,20.5],[715.0,18],[715.5,2.9],[716.0,0.4],[723,null],[730.5,0.8],[731.6,0.8],[734,null],[736.9,1],[738.0,1],[740,null],[743.9,2.9],[746.0,2.9],[746.6,1.6],[748.2,4.2],[749.3,2.9],[750.3,5.4],[751.4,4.2],[752.5,4.8],[753.5,5.4],[754.6,4.2],[755.7,5.4],[756.8,6.7],[757.8,4.2],[758.9,2.9],[760.0,4.2],[761.0,2.9],[762.1,0.4],[764,null],[766.9,2.9],[768.0,3.5],[769.1,1.6],[769.6,4.2],[770.7,9.2],[771.2,6.7],[771.8,2.9],[772.3,120]];
const ALT_K = [[657.6,0],[672.1,0],[674.3,0.93],[676.4,1.75],[678.5,2.47],[680.7,3.2],[682.8,3.83],[685.0,4.19],[687.1,4.22],[715.0,4.22],[716.0,4.01],[718.2,3.38],[720.3,2.74],[722.5,2.11],[724.6,1.48],[726.8,0.84],[728.4,0.42],[747.6,0.42],[749.3,1.02],[750.9,1.57],[767.5,1.57],[768.5,1.2],[770.7,1.17],[771.8,0.57],[773.9,0]];
const DC2_K = [[716.6,95],[717.1,90],[718.0,114],[758.4,60],[758.9,148],[759.4,40]];
const FSSP_K = [[716.0,99],[716.4,77],[716.8,107],[717.3,122],[717.8,107],[718.4,95],[719.0,152],[719.6,58],[723.0,9],[726.8,16],[758.9,20],[765.0,192]];
const FSSP_ON_K = [673,774];
const PLUMES_K = [[710.1,715.0]];

// ---------- L : 14 juillet (PM) ----------
const RH_L = [[842.3,60.4],[843.1,62.9],[844.0,67.9],[844.8,71.7],[845.6,70.4],[846.4,75.5],[847.3,66.7],[848.1,76.7],[848.9,88],[849.7,96.9],[850.6,99.4],[851.4,96.9],[852.2,101],[853.0,88],[853.8,75.5],[854.7,70.4],[855.5,71.7],[856.3,57.9],[857.1,42.8],[858.8,42.8],[860.4,43.4],[862.1,45.3],[863.7,59.1],[864.6,70.4],[865.4,56.6],[866.2,44],[867.9,39],[868.7,37.7],[870.3,40.3],[872.0,46.5],[873.6,56.6],[875.3,61.6],[876.1,59.1],[876.9,55.3],[877.7,52.8],[878.1,null],[878.6,39],[879.4,45.3],[880.2,37.7],[881.0,44],[881.9,25.2],[882.7,21.4],[883.5,50.3],[884.3,51.6],[885.2,36.5],[886.0,52.8],[886.8,32.7],[887.6,44],[888.5,40.3],[889.3,32.7],[890.1,44],[890.9,78],[891.8,104.4],[892.6,95.7],[893.4,85.5],[894.2,84.3],[895.1,80.5],[895.9,74.2],[896.7,65.4],[897.5,60.4],[898.4,56.6],[899.2,57.9],[900.0,64.2],[901.6,67.9],[903.3,69.2],[904.1,65.4],[904.9,57.9],[906.6,56.6],[908.2,56],[909.9,56],[911.5,56.6],[913.2,57.2],[914.8,57.2],[916.5,57.9],[918.1,59.1],[919.0,62.9],[919.8,71.7],[920.6,88],[921.4,91.8],[923.1,91.2],[924.7,98.1],[925.5,95.7],[926.4,93.1],[928.0,94.3],[929.7,95.7],[931.3,96.9],[933.0,94.3],[934.6,96.9],[936.3,94.3],[937.9,91.8],[938.7,84.3],[939.6,74.2],[941.2,71.7],[942.0,73],[942.9,61.6],[943.7,64.2],[944.5,60.4],[945.3,59.1],[946.2,62.9],[947.8,65.4],[948.6,49],[949.4,69.2],[950.3,59.1],[951.1,55.3],[951.9,51.6],[953.6,52.8],[954.4,50.3],[956.0,51.6],[957.7,50.3],[958.5,62.9],[959.3,81.8],[960.1,56.6],[961.0,81.8],[961.8,80.5],[962.6,60.4],[963.5,42.8],[964.3,41.5],[965.1,60.4],[965.9,55.3],[966.8,50.3],[967.6,46.5],[969.3,44],[970.9,40.3],[972.6,35.2],[974.2,32.7],[975.8,32.7],[976.6,35.2],[977.5,50.3],[978.3,75.5],[979.1,83],[979.9,91.8],[980.8,94.3],[981.6,75.5],[982.4,88],[983.2,52.8],[984.1,93],[984.9,89.3],[985.7,91.8],[986.5,37.7],[987.4,54],[988.2,12.6],[989.0,75.5],[989.8,95.7],[990.7,94.3],[991.5,56.6],[992.3,81.8],[993.1,50.3],[994.0,88],[994.8,94.3],[995.6,98.1],[996.4,62.9],[997.3,37.7],[998.1,83],[998.9,101],[999.7,93],[1000.6,50.3],[1001.4,88],[1002.2,65.4],[1003.8,54],[1004.7,44],[1005.5,42.8],[1006.3,37.7],[1007.1,47.8],[1008.0,69.2],[1008.8,81.8],[1009.6,99.4],[1010.4,95.7],[1011.3,90.6],[1012.1,89.3],[1012.9,83],[1013.7,73],[1015.4,69.2],[1017.0,62.9],[1017.8,56.6],[1018.7,50.3],[1019.5,44],[1020.3,41.5],[1022.0,40.3]];
const CO_L = [[842.3,54],[843.1,2.5],[844.0,1.3],[845.6,3.8],[847.3,2.5],[848.1,5],[848.9,2.5],[849.7,3.8],[850.6,1.3],[853,null],[857.1,3.8],[858.0,5],[858.8,7.5],[859.6,8.8],[860.4,10],[861.3,15],[862.1,23.9],[862.9,25.2],[863.7,17.6],[864.6,11.3],[865.4,5],[866.2,10],[867.0,12.6],[867.9,15],[868.7,13.8],[869.5,16.4],[870.3,15],[871.2,13.8],[872.0,17.6],[872.8,16.4],[873.6,17.6],[874.5,20],[875.3,21.4],[876.1,18.9],[876.9,16.4],[878,null],[880.2,12.6],[881.0,13.8],[881.9,16.4],[882.7,18.9],[883.5,17.6],[884.3,20],[885.2,22.6],[886.0,23.9],[886.8,13.8],[887.6,7.5],[888.5,1.3],[889.3,0],[890.1,0.6],[900,null],[908.2,3.1],[909.9,1.3],[914.8,1.3],[916.5,2.5],[918.1,3.8],[919.8,2.5],[921.4,3.8],[923.1,2.5],[924.7,3.8],[926.4,5],[928.0,3.8],[929.7,5.7],[931.3,5],[933.0,3.8],[934.6,5.7],[936.3,5],[937.9,4.4],[939.6,5],[941.2,5.7],[942.9,5],[943.7,8.8],[944.5,17.6],[945.3,5],[947,null],[949.4,16.4],[950.3,27.7],[951.1,25.2],[951.9,20],[952.7,23.9],[953.6,17.6],[954.4,25.2],[955.2,20],[956.0,27.7],[956.9,22.6],[957.7,25.2],[958.5,16.4],[959.0,37.7],[959.3,68],[960.1,62.9],[961.0,50.3],[961.8,52.8],[962.6,45.3],[963.5,55.3],[964.3,41.5],[965.1,31.4],[965.9,22.6],[966.8,17.6],[967.6,12.6],[968.4,11.3],[970,null],[972.6,5],[973.4,8.8],[974.2,12.6],[975.1,15],[975.9,16.4],[976.7,15],[977.5,12.6],[978.3,15],[979.1,22.6],[979.9,25.2],[980.8,27.7],[981.6,25.2],[982.4,35.2],[983.2,31.4],[984.1,36.5],[984.9,37.7],[985.7,40.3],[986.5,31.4],[987.4,22.6],[988.2,17.6],[989.0,10],[989.8,12.6],[990.7,17.6],[991.5,22.6],[992.3,20],[994.0,20],[995.6,25.2],[997.3,22.6],[998.9,22.6],[1000.6,21.4],[1001.4,20],[1002.2,15],[1003.1,5],[1003.9,0],[1004.7,11.3],[1005.5,10],[1006.3,0],[1007.1,2.5],[1008.0,3.8],[1008.8,2.5],[1015,null],[1021.3,83],[1021.8,120]];
const ALT_L = [[842.3,0],[845.6,1.0],[848.9,1.9],[852.2,2.72],[855.5,3.44],[858.8,4.17],[862.1,4.8],[865.4,5.43],[868.7,5.89],[872.0,6.25],[875.3,6.52],[877.7,6.63],[879.4,6.57],[881.0,6.07],[883.5,5.25],[886.8,4.17],[890.1,3.08],[893.4,1.99],[896.7,1.09],[900.0,0.54],[902.5,0.54],[906.6,1.18],[918.1,1.18],[920.6,2.08],[924.7,3.17],[943.7,3.17],[946.2,3.8],[949.4,4.53],[952.7,5.16],[956.0,5.71],[959.3,6.16],[962.6,6.43],[965.9,6.61],[974.2,6.61],[978.3,6.57],[980.8,5.98],[983.2,5.26],[999.7,5.26],[1001.4,4.71],[1005.5,3.44],[1008.8,2.54],[1012.1,1.63],[1014.6,1.18],[1017.0,1.15],[1019.5,0.45],[1021.5,0]];
const DC2_L = [[850.6,128],[851.5,94],[852.5,105],[923.9,150],[1008.8,113],[1010.7,143]];
const FSSP_L = [[850.2,132],[851.0,75],[851.7,94],[852.4,106],[891.8,75],[923.1,215],[923.9,150],[924.7,147],[925.5,75],[933.0,98],[935.9,126],[936.6,38],[939.6,53],[1009.6,151],[1010.4,196],[1012.1,192],[1012.9,75]];
const FSSP_ON_L = [842.3,1022];
const PLUMES_L = [[859.3,866.2],[870.0,876.6],[880.4,887.3],[949.4,967.1],[978.0,987.0],[990.3,1003.5]];

// ===================== LAYOUT / STYLE =====================
const FONT = '"Liberation Sans", Arial, Helvetica, sans-serif';
const HEADROOM = 1.1;
const COLORS = {rh:'#000000', co:'#0000ff', dc2:'#80ffff', fssp:'#00bfff', alt:'#808080', plume:'#fcd9b4', sat:'#ff0000'};
const LAYOUT = [
  {cx:0,   cy:40,  cw:545, ch:345, padTop:22,   leftW:53.3, w1:54.5, w2:67,   xH:31,   tL:9.9, t1:6.4, t2:16.7, lp:3, boxPad:6,  altAxis:'#000'},
  {cx:530, cy:40,  cw:532, ch:345, padTop:22,   leftW:51.5, w1:56.5, w2:53,   xH:31,   tL:6.4, t1:6.4, t2:5.4,  lp:2, boxPad:6,  altAxis:'#000'},
  {cx:0,   cy:375, cw:545, ch:345, padTop:21.5, leftW:53.3, w1:63,   w2:58.5, xH:32,   tL:8.2, t1:1.9, t2:9.9,  lp:3, boxPad:6,  altAxis:'#000'},
  {cx:530, cy:375, cw:532, ch:345, padTop:21.5, leftW:51.5, w1:56.5, w2:53,   xH:32,   tL:8.1, t1:2.4, t2:2.9,  lp:2, boxPad:22, altAxis:'#000'},
  {cx:0,   cy:712, cw:545, ch:335, padTop:23,   leftW:53.3, w1:54.5, w2:67,   xH:21.5, tL:9.9, t1:4.4, t2:17.4, lp:3, boxPad:6,  altAxis:'#808080'},
  {cx:530, cy:712, cw:532, ch:335, padTop:23,   leftW:51.5, w1:56.5, w2:53,   xH:21.5, tL:8.1, t1:2.4, t2:1.1,  lp:2, boxPad:6,  altAxis:'#000'}
];
const PANELS = [
  {rh:RH_G, co:CO_G, alt:ALT_G, dc2:DC2_G, fssp:FSSP_G, fsspOn:FSSP_ON_G, plumes:PLUMES_G, xr:XRANGE_G, xt:XTICKS_G, xl:XLABELS_G, ct:CONC_TICKS_G},
  {rh:RH_H, co:CO_H, alt:ALT_H, dc2:DC2_H, fssp:FSSP_H, fsspOn:FSSP_ON_H, plumes:PLUMES_H, xr:XRANGE_H, xt:XTICKS_H, xl:XLABELS_H, ct:CONC_TICKS_H},
  {rh:RH_I, co:CO_I, alt:ALT_I, dc2:DC2_I, fssp:FSSP_I, fsspOn:FSSP_ON_I, plumes:PLUMES_I, xr:XRANGE_I, xt:XTICKS_I, xl:XLABELS_I, ct:CONC_TICKS_I},
  {rh:RH_J, co:CO_J, alt:ALT_J, dc2:DC2_J, fssp:FSSP_J, fsspOn:FSSP_ON_J, plumes:PLUMES_J, xr:XRANGE_J, xt:XTICKS_J, xl:XLABELS_J, ct:CONC_TICKS_J},
  {rh:RH_K, co:CO_K, alt:ALT_K, dc2:DC2_K, fssp:FSSP_K, fsspOn:FSSP_ON_K, plumes:PLUMES_K, xr:XRANGE_K, xt:XTICKS_K, xl:XLABELS_K, ct:CONC_TICKS_K},
  {rh:RH_L, co:CO_L, alt:ALT_L, dc2:DC2_L, fssp:FSSP_L, fsspOn:FSSP_ON_L, plumes:PLUMES_L, xr:XRANGE_L, xt:XTICKS_L, xl:XLABELS_L, ct:CONC_TICKS_L}
];

Chart.defaults.font.family = FONT;
Chart.defaults.font.size = 16;
Chart.defaults.color = '#000';

const pts = arr => arr.map(([x, y]) => ({x, y}));
const setTicks = vals => scale => { scale.ticks = vals.map(v => ({value: v})); };

function panelPlugin(P, Lay, letter, date) {
  return {
    id: 'panel' + letter,
    beforeDatasetsDraw(chart) {
      const {ctx, chartArea: a, scales: {x}} = chart;
      ctx.save();
      ctx.fillStyle = COLORS.plume;
      for (const [s, e] of P.plumes) {
        const x0 = x.getPixelForValue(s), x1 = x.getPixelForValue(e);
        ctx.fillRect(x0, a.top, x1 - x0, a.bottom - a.top);
      }
      ctx.strokeStyle = '#000';
      ctx.lineWidth = 1.2;
      ctx.strokeRect(a.left, a.top, a.right - a.left, a.bottom - a.top);
      ctx.restore();
    },
    afterDatasetsDraw(chart) {
      const {ctx, chartArea: a} = chart;
      ctx.save();
      ctx.font = '16px ' + FONT;
      const w = ctx.measureText(date).width;
      const tx = a.right - 9;
      ctx.fillStyle = '#fff';
      ctx.fillRect(tx - w - Lay.boxPad, a.top + 1, w + Lay.boxPad + 8, 21.5);
      ctx.fillStyle = '#000';
      ctx.textAlign = 'right';
      ctx.textBaseline = 'top';
      ctx.fillText(date, tx, a.top + 2.5);
      ctx.font = '19px ' + FONT;
      ctx.textAlign = 'left';
      ctx.fillText(letter, a.left + 7, a.top + 4.5);
      ctx.restore();
    }
  };
}

function fixedW(w) { return s => { s.width = w; s.paddingTop = 0; s.paddingBottom = 0; s.paddingLeft = 0; s.paddingRight = 0; }; }
function fixedH(h) { return s => { s.height = h; s.paddingLeft = 0; s.paddingRight = 0; s.paddingTop = 0; s.paddingBottom = 0; }; }

PANELS.forEach((P, i) => {
  const Lay = LAYOUT[i];
  const cv = document.getElementById('c' + i);
  cv.width = Lay.cw; cv.height = Lay.ch;
  cv.style.left = Lay.cx + 'px'; cv.style.top = Lay.cy + 'px';
  cv.style.width = Lay.cw + 'px'; cv.style.height = Lay.ch + 'px';
  const lineDs = (label, data, axis, color, width) => ({
    type: 'line', label, data: pts(data), yAxisID: axis, borderColor: color, backgroundColor: color,
    borderWidth: width, pointRadius: 0, tension: 0, spanGaps: false,
    borderJoinStyle: 'round', borderCapStyle: 'round'
  });
  new Chart(cv, {
    type: 'line',
    data: {
      datasets: [
        {type:'line', label:'RH = 100 %', data:[{x:P.xr[0], y:SAT_RH}, {x:P.xr[1], y:SAT_RH}], yAxisID:'y',
         borderColor:COLORS.sat, borderWidth:2.6, pointRadius:0},
        lineDs('Altitude', P.alt, 'y2', COLORS.alt, 3),
        lineDs('ΔCO', P.co, 'y', COLORS.co, 3.6),
        lineDs('RH', P.rh, 'y', COLORS.rh, 3.6),
        {type:'line', label:'FSSP 300 (0)', data:[{x:P.fsspOn[0], y:0}, {x:P.fsspOn[1], y:0}], yAxisID:'y1',
         borderColor:COLORS.fssp, borderWidth:2, pointRadius:0},
        {type:'bar', label:'FSSP 300', data: pts(P.fssp), yAxisID:'y1', backgroundColor:COLORS.fssp,
         barThickness:1.6, grouped:false, borderWidth:0},
        {type:'bar', label:'2DC', data: pts(P.dc2), yAxisID:'y1', backgroundColor:COLORS.dc2,
         barThickness:2.4, grouped:false, borderWidth:0}
      ]
    },
    options: {
      responsive: false, animation: false, devicePixelRatio: 1,
      layout: {padding: {top: Lay.padTop, left: 0, right: 0, bottom: 0}},
      plugins: {legend: {display: false}, tooltip: {enabled: false}},
      events: [],
      scales: {
        x: {
          type: 'linear', position: 'bottom', min: P.xr[0], max: P.xr[1], offset: false,
          afterBuildTicks: setTicks(P.xt),
          afterFit: fixedH(Lay.xH),
          ticks: {autoSkip: false, maxRotation: 0, minRotation: 0, padding: 0, callback: (v, k) => P.xl[k]},
          grid: {display: true, drawOnChartArea: true, drawTicks: false, color: 'rgba(0,0,0,0.75)', lineWidth: 1},
          border: {display: false, dash: [1, 3]}
        },
        y: {
          type: 'linear', position: 'left', min: 0, max: RH_TICKS[4] * HEADROOM,
          afterBuildTicks: setTicks(RH_TICKS),
          afterFit: fixedW(Lay.leftW),
          ticks: {autoSkip: false, padding: Lay.lp, callback: v => String(v)},
          title: {display: true, text: 'RH (%), ΔCO (ppbv)', padding: {top: Lay.tL, bottom: 0}},
          grid: {display: true, drawOnChartArea: true, drawTicks: false, color: 'rgba(0,0,0,0.75)', lineWidth: 1},
          border: {display: false, dash: [1, 3]}
        },
        y1: {
          type: 'linear', position: 'right', min: 0, max: P.ct[4] * HEADROOM,
          afterBuildTicks: setTicks(P.ct),
          afterFit: fixedW(Lay.w1),
          ticks: {autoSkip: false, padding: 3, callback: v => String(v)},
          title: {display: true, text: 'Total conc. (2DC en L⁻¹, FSSP 100 en cm⁻³)', padding: {top: Lay.t1, bottom: 0}},
          grid: {display: false, drawOnChartArea: false, drawTicks: false},
          border: {display: false}
        },
        y2: {
          type: 'linear', position: 'right', min: 0, max: ALT_TICKS[4] * HEADROOM,
          afterBuildTicks: setTicks(ALT_TICKS),
          afterFit: fixedW(Lay.w2),
          ticks: {autoSkip: false, padding: 1, callback: (v, k) => ALT_LABELS[k]},
          title: {display: true, text: 'Altitude (km)', padding: {top: Lay.t2, bottom: 0}},
          grid: {display: true, drawOnChartArea: false, drawTicks: true, tickLength: 4, tickColor: Lay.altAxis, tickWidth: 1},
          border: {display: true, color: Lay.altAxis, width: 1.2}
        }
      }
    },
    plugins: [panelPlugin(P, Lay, PANEL_LETTERS[i], PANEL_DATES[i])]
  });
});
</script>
</body></html>
